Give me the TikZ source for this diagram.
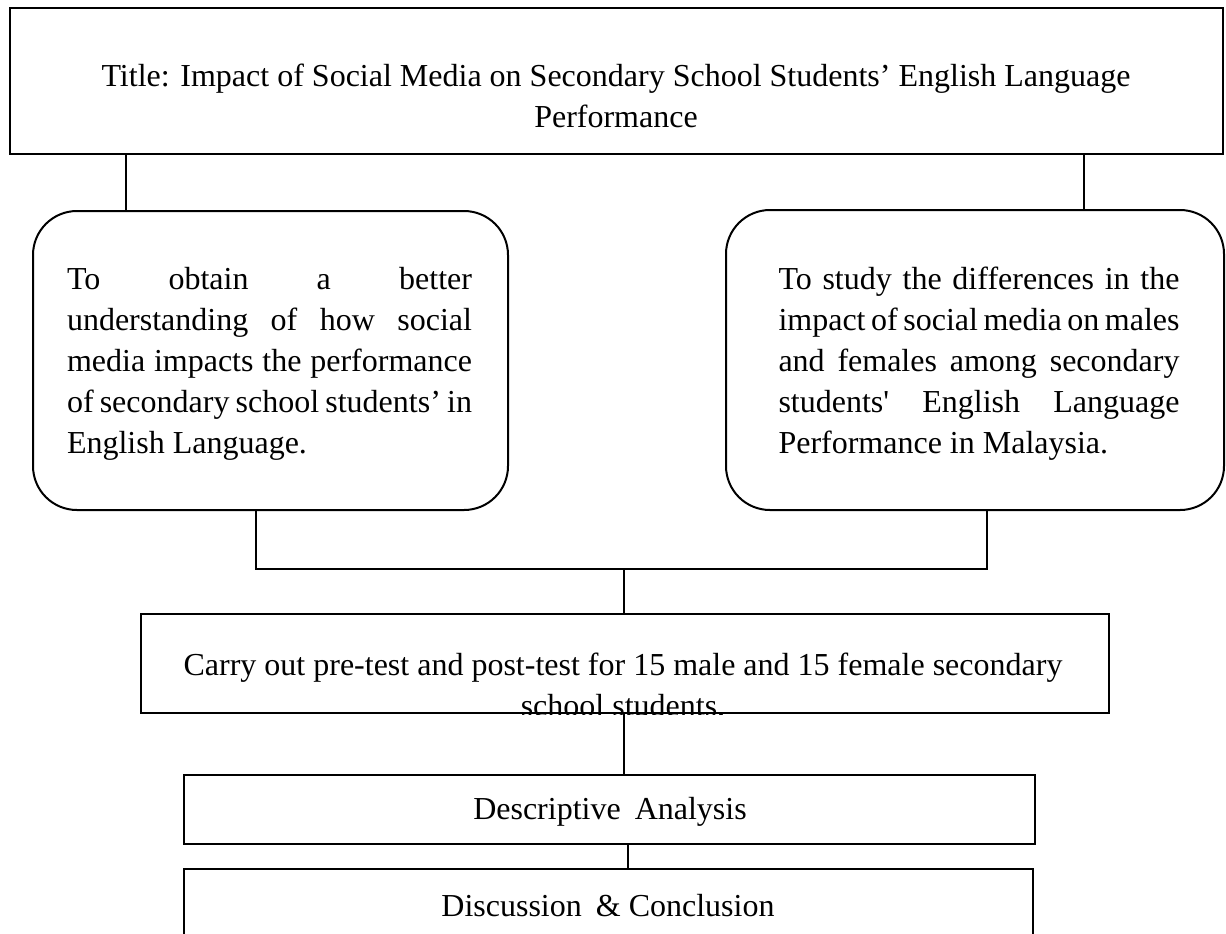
\documentclass[tikz,border=0pt]{standalone}
\usepackage{fontspec}
\setmainfont{Liberation Serif}
\tikzset{outline box/.style={draw=black, line width=1pt, rectangle, inner sep=0pt},
     aim box/.style={outline box, rounded corners=22pt},
     box text/.style={inner sep=0pt, font=\fontsize{16}{20.5}\selectfont},
     one line/.style={box text, text height=0.7em, text depth=0.25em},
     link/.style={draw=black, line width=0.75pt}
     }

\begin{document}
\begin{tikzpicture}[x=0.5pt, y=-0.5pt]
\clip (0,0) rectangle (1226,933);
\fill[white] (0,0) rectangle (1226,933);

% title across the top
\node[outline box, minimum width=606.5pt, minimum height=73pt] (title) at (616.5,81) {};
\node[box text, align=center] (title label) at (616,96)
  {Title: Impact of Social Media on Secondary School Students’ English Language\\Performance};

% the two aims
\node[aim box, minimum width=237.5pt, minimum height=149.5pt] (aim1) at (270.5,360.5) {};
\node[box text, text width=202.5pt, align=justify] (aim1 label) at (269.5,364)
  {To obtain a better\linebreak understanding of how social\linebreak media impacts the performance\linebreak of secondary school students’ in\linebreak English Language.};
\node[aim box, minimum width=249pt, minimum height=150pt] (aim2) at (975,360) {};
\node[box text, text width=200.5pt, align=justify] (aim2 label) at (979,364)
  {To study the differences in the\linebreak impact of social media on males\linebreak and females among secondary\linebreak students\textquotesingle{} English Language\linebreak Performance in Malaysia.};

% method, analysis, close
\node[outline box, minimum width=484pt, minimum height=49.5pt] (tests) at (625,663.5) {};
\begin{scope}
  \clip (tests.north west) rectangle (tests.south east);
  \node[box text, align=center] (tests label) at (623,685)
    {Carry out pre-test and post-test for 15 male and 15 female secondary\\school students.};
\end{scope}
\node[outline box, minimum width=425.5pt, minimum height=34.5pt] (analysis) at (609.5,809.5) {};
\node[one line] (analysis label) at (610,815) {Descriptive\hspace{3pt} Analysis};
\node[outline box, minimum width=424.5pt, minimum height=60pt] (close) at (608.5,929) {};
\node[one line] (close label) at (608,912) {Discussion\hspace{3pt} \& Conclusion};

% connectors
\coordinate (drop1) at (126,0);
\coordinate (drop2) at (1084,0);
\coordinate (rise1) at (256,0);
\coordinate (rise2) at (987,0);
\coordinate (drop3) at (628,0);
\coordinate (split) at (624,569);
\draw[link] (title.south -| drop1) -- (aim1.north -| drop1);
\draw[link] (title.south -| drop2) -- (aim2.north -| drop2);
\draw[link] (aim1.south -| rise1) |- (split) -| (aim2.south -| rise2);
\draw[link] (split) -- (tests.north -| split);
\draw[link] (tests.south -| split) -- (analysis.north -| split);
\draw[link] (analysis.south -| drop3) -- (close.north -| drop3);
\end{tikzpicture}
\end{document}
